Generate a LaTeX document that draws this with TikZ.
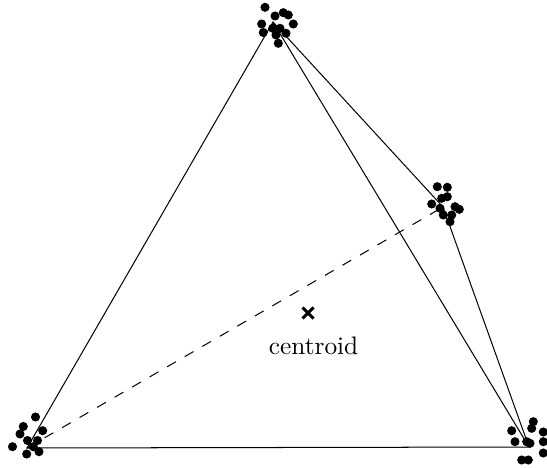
\documentclass[tikz,border=0pt]{standalone}
\usepackage{tikz}
\usetikzlibrary{calc, positioning}

\begin{document}
\begin{tikzpicture}[x=0.395pt, y=-0.395pt,
    pt/.style={fill=black},
    dashedge/.style={dash pattern=on 4pt off 4pt},
    crossmark/.style={line width=1.2pt}]

    \useasboundingbox (0,0) rectangle (547,468);

    % =================================================================
    % CÁC ĐỈNH (tâm các cụm điểm)
    % =================================================================
    \coordinate (A) at (27,448);    % cụm dưới trái
    \coordinate (B) at (529,447);   % cụm dưới phải
    \coordinate (C) at (273,22);    % cụm trên
    \coordinate (D) at (443,207);   % cụm giữa phải

    % Các cụm điểm
    \def\R{1.8pt}
    \foreach \x/\y in {265/7.3, 275/16, 283.3/12.7, 288.3/15, 293.3/24,
        261.7/24, 263.3/32.5, 272.7/28.3, 276/35, 278.3/43.3, 286/33.3, 280/28.3}
        \fill[pt] (\x,\y) circle (\R);
    \foreach \x/\y in {437.3/186.7, 447.3/187.3, 431.7/204, 441.7/198.3,
        447.3/196.7, 440/208.3, 455/206.7, 459.3/209.3, 443.3/215,
        450/221.7, 451.7/215}
        \fill[pt] (\x,\y) circle (\R);
    \foreach \x/\y in {35.5/417, 23.3/426.5, 42.7/430.7, 20/434, 27.5/440.5,
        37.5/440.5, 12.5/446.7, 39/451.7, 26.7/454, 33.3/446.7}
        \fill[pt] (\x,\y) circle (\R);
    \foreach \x/\y in {533.3/421.7, 531.7/428.3, 511.7/430.7, 543.3/432,
        515/441.7, 526.7/441.7, 530/443.3, 543.3/441.7, 543.3/453,
        521.7/460, 528.3/460}
        \fill[pt] (\x,\y) circle (\R);

    % =================================================================
    % CÁC CẠNH
    % =================================================================
    \draw (A) -- (C) -- (B) -- cycle;
    \draw (C) -- (D) -- (B);
    \draw[dashedge] (A) -- (D);

    % Trọng tâm
    \coordinate (G) at (308,313);
    \draw[crossmark] ($(G)+(-5.5,-5.5)$) -- ($(G)+(5.5,5.5)$);
    \draw[crossmark] ($(G)+(-5.5,5.5)$) -- ($(G)+(5.5,-5.5)$);
    \node[below=6pt of G, xshift=2.2pt] (lbl) {centroid};

\end{tikzpicture}
\end{document}
